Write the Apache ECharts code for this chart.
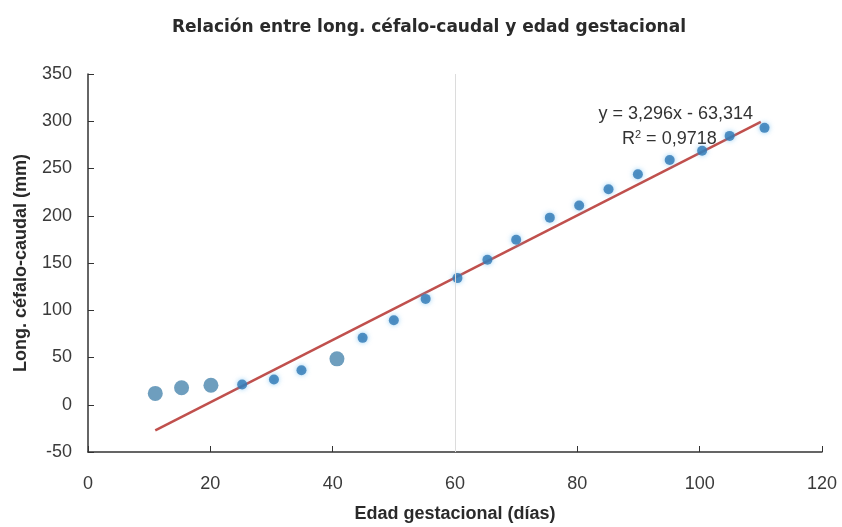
<!DOCTYPE html>
<html><head><meta charset="utf-8">
<script src="https://cdn.jsdelivr.net/npm/echarts@6/dist/echarts.min.js"></script>
<style>html,body{margin:0;padding:0;background:#fff}#c{width:842px;height:527px}</style>
</head><body><div id="c"></div>
<script>
const titleText = 'Relación entre long. céfalo-caudal y edad gestacional';
const xName = 'Edad gestacional (días)';
const yName = 'Long. céfalo-caudal (mm)';
// large markers
const bigX = [11, 15.3, 20.1, 40.7];
const bigY = [12, 18, 20.7, 48.6];
// small markers
const smallX = [25.2, 30.4, 34.9, 44.9, 50, 55.2, 60.4, 65.3, 70, 75.5, 80.3, 85.1, 89.9, 95.1, 100.4, 104.9, 110.6];
const smallY = [21.4, 26.7, 36.6, 70.8, 89.4, 112, 134, 153.5, 174.6, 198, 210.9, 228, 244, 259, 268.7, 284.5, 293];
const slope = 3.296, intercept = -63.314;
const trendX = [11, 110];
const eqText = 'y = 3,296x - 63,314';
const r2Text = '0,9718';

const chart = echarts.init(document.getElementById('c'), null, {renderer:'canvas'});
const font = 'Liberation Sans, Arial, sans-serif';
chart.setOption({
  backgroundColor:'#fff',
  animation:false,
  title:{text:titleText,left:424,top:14,textAlign:'center',textStyle:{fontFamily:'DejaVu Sans',fontSize:17,fontWeight:'bold',color:'#2a2a2a'}},
  grid:{left:88,right:20,top:74,bottom:75,outerBoundsMode:'none',containLabel:false},
  xAxis:{type:'value',min:0,max:120,interval:20,name:xName,nameLocation:'middle',nameGap:53,
    nameTextStyle:{fontFamily:font,fontSize:18,fontWeight:'bold',color:'#2a2a2a'},
    axisLine:{onZero:false,lineStyle:{color:'#333',width:1.5}},
    axisTick:{inside:true,length:6,lineStyle:{color:'#333'}},
    axisLabel:{fontFamily:font,fontSize:18,color:'#3a3a3a',margin:23},
    splitLine:{show:false}},
  yAxis:{type:'value',min:-50,max:350,interval:50,name:yName,nameLocation:'middle',nameGap:58,
    nameTextStyle:{fontFamily:font,fontSize:18,fontWeight:'bold',color:'#2a2a2a'},
    axisLine:{show:true,lineStyle:{color:'#333',width:1.5}},
    axisTick:{show:true,inside:true,length:6,lineStyle:{color:'#333'}},
    axisLabel:{fontFamily:font,fontSize:18,color:'#3a3a3a',margin:16},
    splitLine:{show:false}},
  series:[
    {type:'line',data:trendX.map(x=>[x,slope*x+intercept]),showSymbol:false,symbol:'none',
      lineStyle:{color:'#c0504d',width:2.5},z:2,
      markLine:{silent:true,symbol:'none',label:{show:false},lineStyle:{color:'#dcdcdc',width:1,type:'solid'},data:[{xAxis:60}]}},
    {type:'scatter',data:smallX.map((x,i)=>[x,smallY[i]]),symbolSize:10,
      itemStyle:{color:'#2f78b4',shadowColor:'rgba(90,180,240,0.8)',shadowBlur:5},z:3},
    {type:'scatter',data:bigX.map((x,i)=>[x,bigY[i]]),symbolSize:15,
      itemStyle:{color:'#4a86ae'},z:3}
  ],
  graphic:[
    {type:'text',right:842-753,top:105,style:{text:eqText,fontFamily:font,fontSize:18,fill:'#333',textAlign:'right'}},
    {type:'text',left:622,top:129,style:{text:'{a|R}{s|2}{a| = '+r2Text+'}',fontFamily:font,fill:'#333',
      rich:{a:{fontSize:18,fontFamily:font,color:'#333'},s:{fontSize:11,fontFamily:font,color:'#333',verticalAlign:'top',padding:[0,0,10,0]}}}}
  ]
});
</script></body></html>
